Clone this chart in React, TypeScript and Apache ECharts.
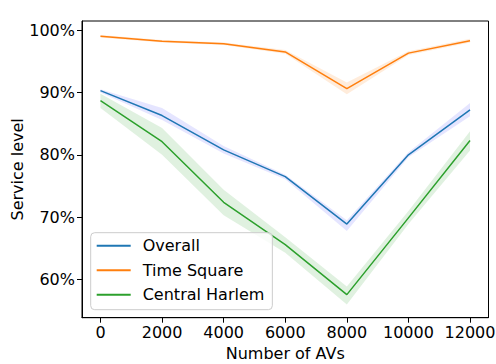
import React, { useEffect, useRef } from "react";
import * as echarts from "echarts";

const xValues = [0, 2000, 4000, 6000, 8000, 10000, 12000];
const xTicks = [0, 2000, 4000, 6000, 8000, 10000, 12000];
const yTicks = [60, 70, 80, 90, 100];

const overall = [90.3, 86.3, 80.8, 76.5, 68.9, 80.0, 87.2];
const overallLow = [90.0, 85.6, 80.2, 76.1, 67.8, 79.6, 86.2];
const overallHigh = [90.5, 87.5, 81.4, 76.8, 69.5, 80.4, 88.3];

const timeSquare = [99.0, 98.2, 97.8, 96.5, 90.6, 96.3, 98.3];
const timeSquareLow = [98.8, 98.0, 97.6, 96.2, 89.7, 96.0, 98.0];
const timeSquareHigh = [99.2, 98.4, 98.0, 96.8, 91.6, 96.6, 98.6];

const harlem = [88.7, 82.1, 72.4, 65.6, 57.6, 69.9, 82.3];
const harlemLow = [87.5, 80.0, 70.3, 64.3, 56.0, 68.9, 80.7];
const harlemHigh = [89.8, 84.3, 74.4, 66.8, 58.9, 71.0, 83.8];

const FONT = "DejaVu Sans";

function pairs(ys: number[]) {
  return xValues.map((x, i) => [x, ys[i]]);
}

function band(id: string, lo: number[], hi: number[], fill: string) {
  return {
    name: id + "_band",
    type: "custom",
    silent: true,
    z: 1,
    data: xValues.map((x, i) => [x, lo[i], hi[i]]),
    encode: { x: 0, y: [1, 2] },
    renderItem: (params: any, api: any) => {
      if (params.dataIndex !== 0) return null;
      const upper = xValues.map((x, i) => api.coord([x, hi[i]]));
      const lower = xValues.map((x, i) => api.coord([x, lo[i]])).reverse();
      return {
        type: "polygon",
        shape: { points: upper.concat(lower) },
        style: { fill, stroke: "none" },
      };
    },
  };
}

function mainLine(name: string, ys: number[], color: string) {
  return {
    name,
    type: "line",
    data: pairs(ys),
    symbol: "none",
    color,
    lineStyle: { color, width: 1.5 },
    z: 3,
  };
}

export default function App() {
  const ref = useRef<HTMLDivElement>(null);
  useEffect(() => {
    if (!ref.current) return;
    const chart = echarts.init(ref.current, undefined, { renderer: "svg" });
    chart.setOption({
      animation: false,
      textStyle: { fontFamily: FONT },
      grid: {
        left: 82,
        top: 21,
        right: 7.5,
        bottom: 46.3,
        containLabel: false,
        outerBoundsMode: "none",
        show: true,
        borderColor: "#000",
        borderWidth: 1,
        backgroundColor: "transparent",
      },
      legend: {
        left: 90.7,
        top: 232.7,
        orient: "vertical",
        data: [
          { name: "Overall", icon: "rect" },
          { name: "Time Square", icon: "rect" },
          { name: "Central Harlem", icon: "rect" },
        ],
        itemWidth: 34,
        itemHeight: 2,
        itemGap: 8.5,
        padding: [5, 8, 7, 6],
        backgroundColor: "rgba(255,255,255,0.8)",
        borderColor: "#cccccc",
        borderWidth: 1,
        borderRadius: 4,
        textStyle: {
          fontFamily: FONT,
          fontSize: 16,
          color: "#000",
          padding: [0, 0, 0, 7],
        },
      },
      xAxis: {
        type: "value",
        min: -600,
        max: 12600,
        name: "Number of AVs",
        nameLocation: "middle",
        nameGap: 27.5,
        nameMoveOverlap: false,
        nameTextStyle: { fontFamily: FONT, fontSize: 16, color: "#000" },
        splitLine: { show: false },
        axisLine: { show: true, onZero: false, lineStyle: { color: "#000", width: 1 } },
        axisTick: {
          show: true,
          length: 5,
          lineStyle: { color: "#000", width: 1 },
          customValues: xTicks,
        },
        axisLabel: {
          customValues: xTicks,
          fontFamily: FONT,
          fontSize: 16,
          color: "#000",
          margin: 7,
          formatter: (v: number) => String(v),
        },
      },
      yAxis: {
        type: "value",
        min: 53.9,
        max: 101.45,
        name: "Service level",
        nameLocation: "middle",
        nameGap: 57,
        nameMoveOverlap: false,
        nameTextStyle: { fontFamily: FONT, fontSize: 16, color: "#000" },
        splitLine: { show: false },
        axisLine: { show: true, onZero: false, lineStyle: { color: "#000", width: 1 } },
        axisTick: {
          show: true,
          length: 5,
          lineStyle: { color: "#000", width: 1 },
          customValues: yTicks,
        },
        axisLabel: {
          customValues: yTicks,
          fontFamily: FONT,
          fontSize: 16,
          color: "#000",
          margin: 7,
          formatter: (v: number) => `${v}%`,
        },
      },
      series: [
        band("ov", overallLow, overallHigh, "rgba(0,0,255,0.1)"),
        band("ts", timeSquareLow, timeSquareHigh, "rgba(255,127,14,0.15)"),
        band("ch", harlemLow, harlemHigh, "rgba(44,160,44,0.15)"),
        mainLine("Overall", overall, "#1f77b4"),
        mainLine("Time Square", timeSquare, "#ff7f0e"),
        mainLine("Central Harlem", harlem, "#2ca02c"),
      ],
    });
    return () => chart.dispose();
  }, []);
  return <div ref={ref} style={{ width: 496, height: 364, position: "absolute", left: 0, top: 0 }} />;
}
